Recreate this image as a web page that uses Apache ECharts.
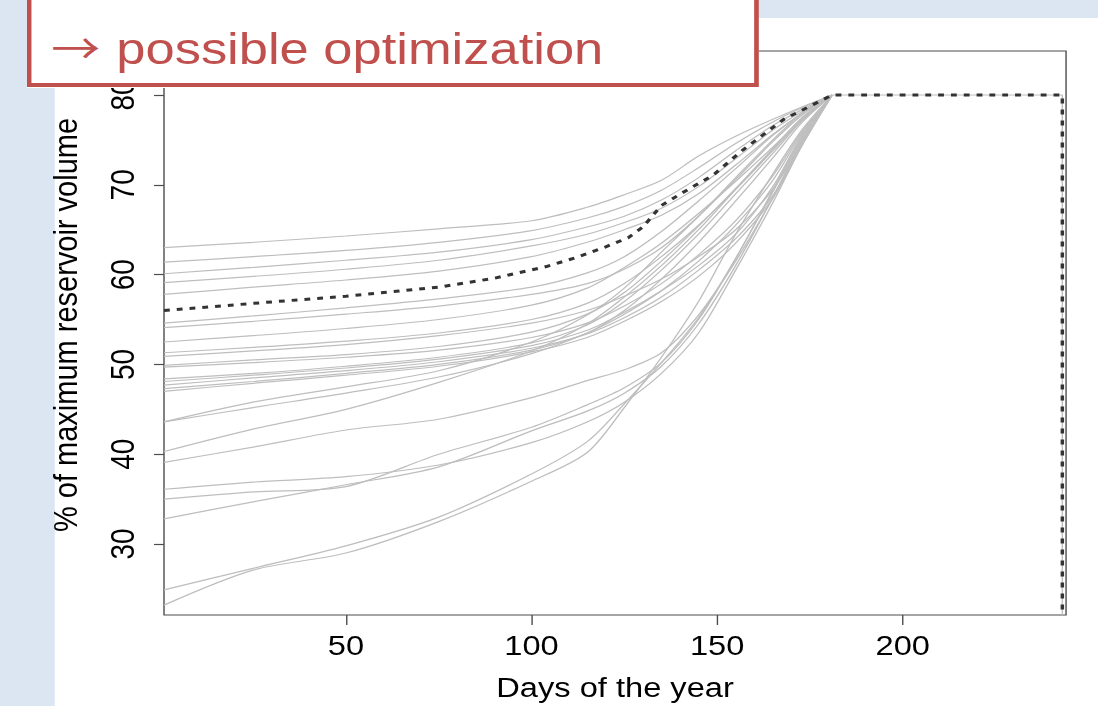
<!DOCTYPE html>
<html>
<head>
<meta charset="utf-8">
<title>Reservoir volume</title>
<script src="https://cdn.jsdelivr.net/npm/echarts@6/dist/echarts.min.js"></script>
<style>
  html, body { margin: 0; padding: 0; width: 1098px; height: 706px; overflow: hidden; background: #dce6f2; }
  /* the slide screenshot is stretched sideways, so the whole stage is too */
  #slide { position: absolute; left: 0; top: 0; width: 942px; height: 706px; transform: scaleX(1.1656); transform-origin: 0 0; }
  #paper { position: absolute; left: 47.2px; top: 18px; right: 0; bottom: 0; background: #fff; }
  #chart { position: absolute; left: 0; top: 0; width: 942px; height: 706px; }
  #headline {
    position: absolute; left: 23px; top: -10px; width: 628px; height: 97px; box-sizing: border-box;
    border: 4px solid #c0504d; background: #fff; color: #c0504d;
    font: 45px 'Liberation Sans', Arial, sans-serif; line-height: 45px;
    padding: 29px 0 0 17px; white-space: nowrap;
  }
  #headline .arrow { display: inline-block; width: 55.8px; font-family: 'Noto Sans CJK SC', 'DejaVu Sans', sans-serif; font-size: 42px; }
</style>
</head>
<body>
<div id="slide">
  <div id="paper"></div>
  <div id="chart"></div>
  <div id="headline"><span class="arrow">→</span>possible optimization</div>
</div>
<script>
// days at which every simulated year is read off the picture
var days = [1, 25, 50, 75, 100, 115, 125, 135, 145, 155, 165, 173, 181];
// after the filling period all years hold the target, then the season ends
var plateauDays = [181, 243, 243];
var plateauValues = [80, 80, 22.1];

// grey curves, one per year (% of maximum reservoir volume)
var upperYears = [
  [63.0, 63.6, 64.3, 65.1, 66.0, 67.5, 68.9, 70.5, 73.2, 75.4, 77.3, 78.7, 80],
  [61.4, 62.0, 62.7, 63.6, 64.9, 66.3, 67.6, 69.4, 71.9, 74.6, 77.0, 78.6, 80],
  [60.1, 60.8, 61.6, 62.5, 63.9, 65.3, 66.5, 68.3, 70.8, 73.8, 76.6, 78.4, 80],
  [59.1, 59.8, 60.6, 61.6, 63.2, 64.5, 65.8, 67.4, 69.8, 72.9, 76.1, 78.2, 80],
  [57.8, 58.6, 59.4, 60.4, 62.0, 63.6, 65.0, 66.6, 69.0, 72.2, 75.6, 78.0, 80]
];
var middleYears = [
  [54.6, 55.4, 56.3, 57.3, 58.6, 60.2, 62.0, 64.8, 68.2, 71.8, 75.5, 78.0, 80],
  [54.1, 54.8, 55.6, 56.5, 57.8, 59.0, 60.6, 63.0, 66.5, 70.6, 74.8, 77.8, 80],
  [52.5, 53.2, 54.0, 55.0, 56.6, 58.5, 60.8, 63.5, 66.8, 70.4, 74.2, 77.4, 80],
  [51.3, 51.9, 52.6, 53.5, 55.0, 56.8, 59.0, 62.0, 65.5, 69.5, 73.8, 77.3, 80],
  [50.9, 51.5, 52.2, 53.2, 54.6, 56.0, 57.6, 59.5, 62.0, 65.0, 69.5, 74.8, 80],
  [49.9, 50.5, 51.1, 52.0, 53.6, 55.6, 58.0, 61.5, 65.4, 69.6, 74.0, 77.5, 80],
  [49.7, 50.2, 50.8, 51.6, 53.0, 54.6, 56.5, 59.0, 62.2, 66.0, 71.0, 76.0, 80],
  [48.4, 49.0, 49.8, 50.8, 52.4, 54.4, 57.0, 60.5, 64.5, 69.0, 73.5, 77.2, 80],
  [48.1, 48.8, 49.6, 50.6, 52.1, 53.8, 55.8, 58.2, 61.0, 64.5, 69.8, 75.6, 80],
  [47.7, 48.5, 49.3, 50.3, 51.8, 53.4, 55.2, 57.5, 60.5, 64.0, 68.8, 74.8, 80],
  [47.3, 48.1, 49.0, 50.0, 51.6, 53.5, 56.0, 59.5, 63.6, 68.2, 73.0, 77.0, 80],
  [47.0, 47.9, 48.8, 49.8, 51.4, 53.0, 54.8, 57.0, 59.8, 63.5, 68.5, 74.5, 80]
];
var lowerYears = [
  [43.6, 45.8, 47.5, 49.3, 52.5, 55.5, 58.5, 62.5, 66.5, 70.8, 75.0, 78.0, 80],
  [43.6, 45.2, 46.8, 48.6, 51.2, 53.5, 55.6, 58.2, 61.5, 65.5, 70.5, 75.8, 80],
  [40.3, 42.8, 45.0, 48.0, 51.5, 54.5, 57.5, 61.0, 65.0, 69.5, 74.0, 77.5, 80],
  [39.1, 40.8, 42.7, 43.9, 46.3, 48.2, 49.4, 51.3, 55.5, 61.5, 68.5, 74.5, 80],
  [36.1, 36.9, 37.5, 38.8, 41.3, 43.6, 45.8, 49.0, 53.5, 60.5, 68.0, 74.5, 80],
  [35.0, 35.8, 36.4, 40.0, 43.0, 45.5, 47.4, 50.2, 55.0, 61.8, 69.2, 75.2, 80],
  [32.8, 34.7, 36.6, 38.6, 42.6, 44.8, 46.8, 49.8, 54.5, 61.0, 68.6, 75.0, 80],
  [24.9, 27.3, 29.8, 33.0, 37.8, 41.4, 45.6, 50.2, 55.2, 61.8, 69.4, 75.4, 80],
  [23.2, 27.1, 29.0, 32.5, 37.0, 40.2, 45.2, 50.8, 57.0, 64.5, 71.2, 76.2, 80]
];

// dashed black curve: the optimised operation
var optimalDays = [1, 25, 50, 75, 90, 104, 112, 120, 126, 130, 135, 141, 149, 157, 168, 181, 243, 243];
var optimalValues = [56.0, 56.8, 57.6, 58.6, 59.6, 60.9, 61.9, 63.1, 64.1, 65.3, 67.7, 69.2, 71.1, 73.9, 77.3, 80, 80, 22.1];

var xTicks = [50, 100, 150, 200];
var yTicks = [30, 40, 50, 60, 70, 80];

var SX = 1098 / 942;
var fontFamily = "'Liberation Sans', Arial, sans-serif";
var frameColor = '#4d4d4d';
var greyLine = { color: '#bebebe', width: 1.2 };

function pairs(xs, ys) {
  return xs.map(function (d, i) { return [d, ys[i]]; });
}

var chart = echarts.init(document.getElementById('chart'), null, { renderer: 'svg' });

var series = [];
upperYears.concat(middleYears, lowerYears).forEach(function (vals) {
  series.push({
    type: 'line',
    data: pairs(days, vals),
    smooth: 0.3,
    showSymbol: false,
    symbol: 'none',
    silent: true,
    lineStyle: greyLine,
    z: 2
  });
});
series.push({
  type: 'line',
  data: pairs(plateauDays, plateauValues),
  showSymbol: false,
  symbol: 'none',
  silent: true,
  lineStyle: greyLine,
  z: 2
});
series.push({
  type: 'line',
  data: pairs(optimalDays, optimalValues),
  showSymbol: false,
  symbol: 'none',
  silent: true,
  lineStyle: { color: '#333333', width: 3, type: [5, 6], cap: 'butt' },
  z: 3
});

chart.setOption({
  animation: false,
  grid: {
    left: 140.7, right: 27.4, top: 51, bottom: 91,
    show: true, borderColor: frameColor, borderWidth: 1.2, backgroundColor: '#fff'
  },
  xAxis: {
    type: 'value', min: 1, max: 244,
    name: 'Days of the year', nameLocation: 'middle', nameGap: 58,
    nameTextStyle: { fontSize: 28, color: '#000', fontFamily: fontFamily },
    splitLine: { show: false },
    axisLine: { show: false },
    axisTick: { show: true, length: 10, customValues: xTicks, lineStyle: { color: frameColor, width: 1.2 } },
    axisLabel: { customValues: xTicks, fontSize: 28, color: '#000', margin: 16, fontFamily: fontFamily }
  },
  yAxis: {
    type: 'value', min: 22.1, max: 84.9,
    name: '% of maximum reservoir volume', nameLocation: 'middle', nameGap: 70, nameRotate: 90,
    nameTextStyle: { fontSize: 29, color: '#000', fontFamily: fontFamily, padding: [0, 0, 0, 16] },
    splitLine: { show: false },
    axisLine: { show: false },
    axisTick: { show: true, length: 10 / SX, customValues: yTicks, lineStyle: { color: frameColor, width: 1.2 } },
    axisLabel: { customValues: yTicks, rotate: 90, fontSize: 28, color: '#000', margin: 22, fontFamily: fontFamily }
  },
  series: series
});
</script>
</body>
</html>
